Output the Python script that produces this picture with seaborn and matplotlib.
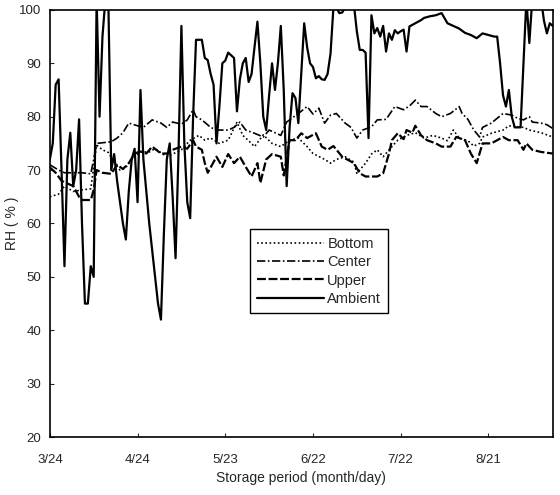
import numpy as np
import pandas as pd
import seaborn as sns
import matplotlib
matplotlib.use("Agg")
import matplotlib.pyplot as plt

# x = storage day index (3/24 = 0), y = RH (%)
tick_pos = [0, 30, 60, 90, 120, 150]
tick_labels = ['3/24', '4/24', '5/23', '6/22', '7/22', '8/21']

amb_day = [0, 1, 2, 3, 4, 5, 6, 7, 8, 9, 10, 11, 12, 13, 14, 15, 16, 17, 18, 19, 20,
           21, 22, 23, 24, 25, 26, 27, 28, 29, 30, 31, 32, 33, 34, 35, 36, 37, 38, 39, 40,
           41, 42, 43, 44, 45, 46, 47, 48, 49, 50, 51, 52, 53, 54, 55, 56, 57, 58, 59, 60,
           61, 62, 63, 64, 65, 66, 67, 68, 69, 70, 71, 72, 73, 74, 75, 76, 77, 78, 79, 80,
           81, 82, 83, 84, 85, 86, 87, 88, 89, 90, 91, 92, 93, 94, 95, 96, 97, 98, 99, 100,
           101, 102, 103, 104, 105, 106, 107, 108, 109, 110, 111, 112, 113, 114, 115, 116,
           117, 118, 119, 120,
           121, 122, 123, 124, 125, 126, 127, 128, 130, 132, 134, 136, 138, 140, 142, 144,
           146, 148, 150, 152,
           153, 154, 155, 156, 157, 158, 159, 160, 161, 162, 163, 164, 165, 166, 167, 168,
           169, 170, 171, 172]
amb_rh = [72, 75, 86, 87, 70, 52, 72, 77, 67, 70, 79.5, 60, 45, 45, 52, 50, 102, 80, 95, 102, 102,
          70, 73, 68, 64, 60, 57, 66, 72, 74, 64, 85, 72, 66, 60, 55, 50, 45, 42, 58, 72,
          75, 65, 53.5, 73, 97, 75, 64, 61, 80, 94.4, 94.4, 94.4, 91, 90.6, 88, 86, 75, 82, 90, 90.5,
          92, 91.5, 91, 81, 87, 90, 91, 86.5, 88, 93, 97.8, 90, 80, 77.5, 84, 90, 85, 90, 97, 85,
          67, 78, 84.4, 83.5, 78.8, 88, 97.5, 93, 90, 89.3, 87.2, 87.6, 87, 86.9, 88, 91.8, 100.5, 100.5, 99.4, 99.5,
          100.5, 102, 102, 101, 96, 92.5, 92.5, 92, 76, 99, 95.6, 96.6, 95, 97, 92.2, 95.6,
          94.4, 96.2, 95.6, 96,
          96.3, 92.2, 96.9, 97.2, 97.5, 97.8, 98.1, 98.5, 98.8, 99, 99.4, 97.5, 97, 96.5, 95.7, 95.3,
          94.7, 95.6, 95.3, 95,
          95, 90, 84, 81.9, 85, 80, 78, 78, 78, 90, 102, 93.8, 102, 102, 102, 102,
          98, 95.6, 97.5, 97]

ctr_day = [0, 3, 5, 11, 14, 15, 16, 21, 23, 25, 27, 30, 32, 35, 38, 40, 42, 45, 47,
           49, 50, 52, 55, 57, 61, 63, 65, 67, 70, 73, 75, 79, 81, 85, 88, 90, 92,
           94, 96, 98, 101, 103, 105, 107, 110, 112, 115, 118, 121, 123, 125, 127,
           129, 132, 134, 137, 140, 141, 143, 145, 147, 148, 151, 153, 155, 158,
           160, 162, 164, 165, 168, 170, 172]
ctr_rh = [71, 70, 69.5, 69.5, 69.3, 72, 75, 75.3, 76, 77, 78.8, 78.3, 78, 79.4, 78.8,
          78, 79, 78.6, 79.4, 81.3, 80, 79.4, 78, 77.5, 77.5, 78, 79, 77.5, 76.9,
          76.2, 77.5, 76.5, 79, 80.6, 81.9, 80.5, 81.6, 78.8, 80.3, 80.6, 78.8, 78,
          76, 77.5, 78.1, 79.4, 79.5, 81.9, 81.3, 82, 83.1, 81.9, 81.9, 80.6, 80,
          80.6, 81.9, 80.6, 79.5, 77.5, 76.2, 78, 78.8, 79.7, 80.6, 80.3, 79.7, 79.4,
          80, 79, 78.8, 78.5, 77.8]

up_day = [0, 2, 4, 6, 8, 10, 11, 14, 15, 16, 18, 21, 23, 25, 27, 29, 31, 33, 35, 38,
          40, 42, 45, 47, 49, 50, 52, 53, 54, 57, 59, 61, 63, 65, 67, 69, 71, 72, 74,
          76, 79, 80, 82, 84, 86, 88, 91, 93, 95, 97, 100, 104, 106, 108, 112, 114,
          116, 117, 119, 121, 122, 124, 125, 127, 129, 132, 134, 137, 139, 142, 144,
          146, 148, 151, 153, 155, 157, 160, 162, 163, 165, 168, 172]
up_rh = [70.5, 69.5, 68, 67.5, 67, 65, 64.4, 64.4, 66.3, 70, 69.5, 69.3, 71, 70.2,
         71.3, 73.1, 73.5, 73.1, 74.4, 73.1, 73.1, 73.8, 74.4, 74, 75.6, 74.4, 73.8,
         71.3, 69.5, 72.5, 70.6, 73, 71.3, 72.5, 70.6, 68.8, 71.3, 67.6, 72, 73,
         72.5, 69, 75.6, 75.6, 76.9, 76, 76.9, 74.4, 73.8, 74.5, 72.5, 71.3, 69.4,
         68.8, 68.8, 69.4, 73.1, 75.6, 76.9, 75.8, 77.5, 77, 78.3, 76.5, 75.6, 75,
         74.4, 74.4, 76.2, 75.6, 73.1, 71.3, 75, 75, 75.6, 76.2, 75.6, 75.6, 73.8,
         75, 73.8, 73.4, 73.1]

bot_day = [0, 3, 5, 8, 11, 14, 16, 18, 20, 22, 24, 26, 28, 31, 34, 36, 40, 42, 45,
           48, 51, 53, 55, 58, 61, 64, 66, 68, 70, 73, 76, 79, 82, 85, 88, 90, 94,
           96, 98, 101, 104, 105, 108, 110, 112, 114, 117, 119, 122, 125, 128, 131,
           134, 136, 138, 140, 143, 145, 147, 148, 151, 155, 157, 162, 164, 168, 172]
bot_rh = [65, 65.5, 67, 66, 66.3, 66.5, 74.7, 73.8, 73.3, 71.5, 70, 70.5, 72, 73.4,
          73.4, 74, 72.5, 73, 73.8, 75.6, 76.5, 75.6, 76, 75, 75.6, 79, 76.5, 75.5,
          74.4, 76.6, 75, 74.4, 75.6, 76, 74.4, 73.1, 72, 71.3, 72, 72.5, 71.5, 69.4,
          71.3, 73, 73.8, 72.5, 74.4, 75.6, 76.5, 77, 76, 76.5, 76, 75.5, 77.5, 76,
          75.5, 74.5, 75, 76.2, 76.9, 77.5, 78.3, 78, 77.5, 77, 76.2]

sns.set_style('ticks')
plt.rcParams['font.family'] = ['Liberation Sans', 'DejaVu Sans']

fig = plt.figure(figsize=(5.6, 4.95), dpi=100)
ax = fig.add_axes([0.089, 0.117, 0.898, 0.863])

sns.lineplot(x=bot_day, y=bot_rh, ax=ax, color='black', linestyle=(0, (1, 1.5)),
             linewidth=1.2, label='Bottom', estimator=None, sort=False)
sns.lineplot(x=ctr_day, y=ctr_rh, ax=ax, color='black', linestyle=(0, (5, 1.5, 1, 1.5)),
             linewidth=1.2, label='Center', estimator=None, sort=False)
sns.lineplot(x=up_day, y=up_rh, ax=ax, color='black', linestyle=(0, (4, 1.2)),
             linewidth=1.6, label='Upper', estimator=None, sort=False)
sns.lineplot(x=amb_day, y=amb_rh, ax=ax, color='black', linestyle='-',
             linewidth=1.6, label='Ambient', estimator=None, sort=False)

ax.set_xlim(0, 172)
ax.set_ylim(20, 100)
ax.set_yticks(range(20, 101, 10))
ax.set_xticks(tick_pos)
ax.set_xticklabels(tick_labels)
ax.tick_params(direction='in', length=3, labelsize=9.5, width=0.8)
ax.tick_params(axis='x', pad=12)
ax.tick_params(axis='y', pad=6)
for s in ax.spines.values():
    s.set_visible(True)
    s.set_linewidth(1.2)
    s.set_color('black')

ax.set_xlabel('Storage period (month/day)', fontsize=10)
ax.set_ylabel('RH ( % )', fontsize=10, labelpad=0)

leg = ax.legend(loc='lower left', bbox_to_anchor=(0.398, 0.29), fontsize=10.5,
                handlelength=4.6, handletextpad=0.2, labelspacing=0.3,
                borderpad=0.5, borderaxespad=0.0, fancybox=False, framealpha=1,
                edgecolor='black')
leg.get_frame().set_linewidth(1.0)

fig.savefig('out.png', dpi=100)
